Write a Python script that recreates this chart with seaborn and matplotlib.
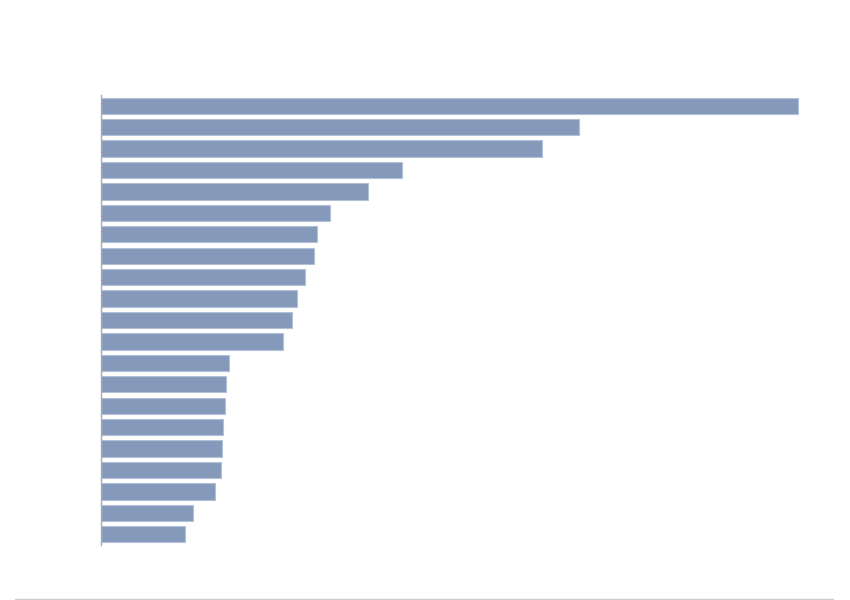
import matplotlib
matplotlib.use("Agg")
import matplotlib.pyplot as plt
from matplotlib.lines import Line2D
import pandas as pd
import seaborn as sns

# Data (no labels are shown)
categories = [f"c{i:02d}" for i in range(1, 22)]
values = [697, 478, 441, 301, 267, 229, 216, 213, 204, 196, 191,
          182, 128, 125, 124, 122, 121, 120, 114, 92, 84]

df = pd.DataFrame({"category": categories, "value": values})

sns.set_style("white")
fig = plt.figure(figsize=(8.5, 6), dpi=100)
ax = fig.add_axes([101 / 850, 55 / 600, 700 / 850, 450 / 600])

sns.barplot(data=df, x="value", y="category", orient="h", ax=ax,
            color="#8599bb", saturation=1, width=0.76,
            edgecolor="#b3c0d6", linewidth=0.8)

ax.set_xlim(0, 700)
ax.set_ylim(20.5, -0.5)
ax.set_xlabel("")
ax.set_ylabel("")
ax.set_xticks([])
ax.set_yticks([])
for side in ["top", "right", "bottom"]:
    ax.spines[side].set_visible(False)
ax.spines["left"].set_color("#aaaaaa")
ax.spines["left"].set_linewidth(1)

# thin rule along the bottom of the figure
fig.add_artist(Line2D([15 / 850, 833 / 850], [1.5 / 600, 1.5 / 600],
                      transform=fig.transFigure, color="#cccccc", linewidth=1))

fig.savefig("out.png", dpi=100)
